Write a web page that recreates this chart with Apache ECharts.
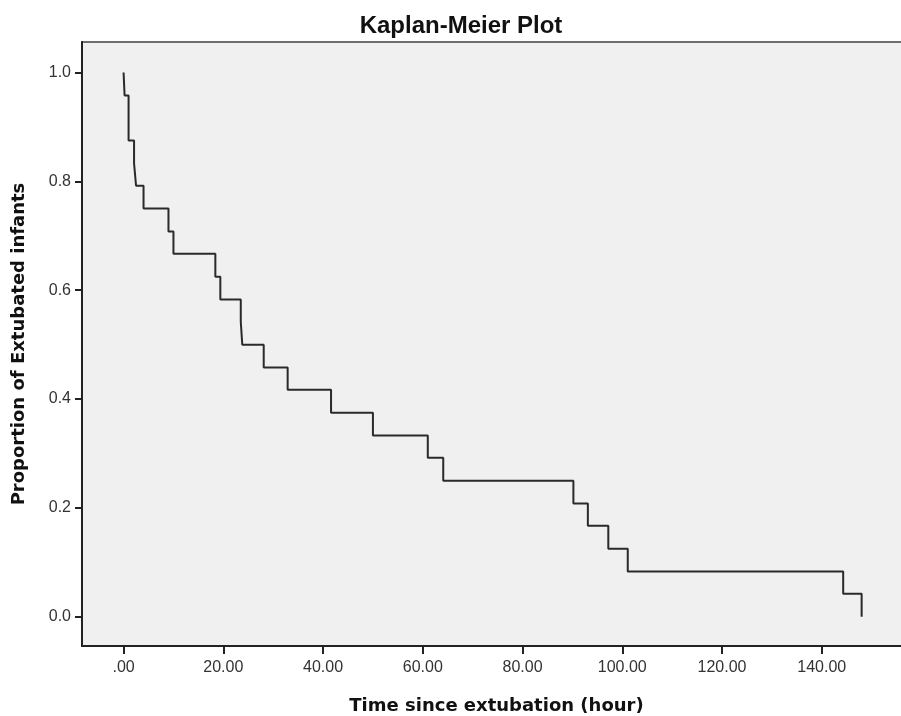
<!DOCTYPE html>
<html>
<head>
<meta charset="utf-8">
<script src="https://cdn.jsdelivr.net/npm/echarts@6/dist/echarts.min.js"></script>
<style>
  html, body { margin: 0; padding: 0; background: #fff; }
  #main { width: 901px; height: 716px; }
</style>
</head>
<body>
<div id="main"></div>
<script>
// event times (hours) and survival proportion right after each event
var times = [0, 0.2, 1.0, 2.1, 2.5, 4.0, 9.0, 10.0, 18.4, 19.4, 23.5, 23.8, 28.1, 32.9,
             41.6, 50.0, 61.0, 64.1, 90.2, 93.1, 97.2, 101.1, 144.3, 148.0];
var survival = [1.0, 0.958, 0.875, 0.833, 0.792, 0.75, 0.708, 0.667, 0.625, 0.583, 0.542, 0.5,
                0.458, 0.417, 0.375, 0.333, 0.292, 0.25, 0.208, 0.167, 0.125, 0.083, 0.042, 0.0];
var xTicks = [0, 20, 40, 60, 80, 100, 120, 140];
var yTicks = [0, 0.2, 0.4, 0.6, 0.8, 1.0];

var myChart = echarts.init(document.getElementById('main'));

var points = times.map(function (t, i) { return [t, survival[i]]; });

var option = {
  backgroundColor: '#ffffff',
  animation: false,
  title: {
    text: 'Kaplan-Meier Plot',
    left: 456,
    textAlign: 'center',
    top: 9,
    textStyle: { fontFamily: 'Liberation Sans', fontSize: 24, fontWeight: 'bold', color: '#111' }
  },
  grid: {
    left: 82,
    top: 42,
    right: -10,
    bottom: 70,
    outerBoundsMode: 'none',
    show: true,
    backgroundColor: '#f0f0f0',
    borderColor: '#6e6e6e',
    borderWidth: 2
  },
  xAxis: {
    type: 'value',
    min: -8.34,
    max: 157.9,
    name: 'Time since extubation (hour)',
    nameLocation: 'middle',
    nameGap: 51,
    nameTextStyle: { fontFamily: 'DejaVu Sans', fontWeight: 'bold', fontSize: 18, color: '#111' },
    splitLine: { show: false },
    axisLine: { onZero: false, lineStyle: { color: '#222', width: 2 } },
    axisTick: { customValues: xTicks, length: 8, lineStyle: { color: '#222', width: 2 } },
    axisLabel: {
      customValues: xTicks,
      margin: 14,
      fontFamily: 'Liberation Sans',
      fontSize: 16,
      color: '#333',
      formatter: function (v) { return v === 0 ? '.00' : v.toFixed(2); }
    }
  },
  yAxis: {
    type: 'value',
    min: -0.0538,
    max: 1.0562,
    name: 'Proportion of Extubated infants',
    nameLocation: 'middle',
    nameGap: 54,
    nameTextStyle: { fontFamily: 'DejaVu Sans', fontWeight: 'bold', fontSize: 18, color: '#111' },
    splitLine: { show: false },
    axisLine: { show: true, onZero: false, lineStyle: { color: '#222', width: 2 } },
    axisTick: { show: true, customValues: yTicks, length: 7, lineStyle: { color: '#222', width: 2 } },
    axisLabel: {
      customValues: yTicks,
      margin: 11,
      fontFamily: 'Liberation Sans',
      fontSize: 16,
      color: '#333',
      formatter: function (v) { return v.toFixed(1); }
    }
  },
  series: [
    {
      name: 'Survival',
      type: 'line',
      step: 'end',
      data: points,
      symbol: 'none',
      lineStyle: { color: '#2a2a2a', width: 2 }
    }
  ]
};

myChart.setOption(option);
</script>
</body>
</html>
